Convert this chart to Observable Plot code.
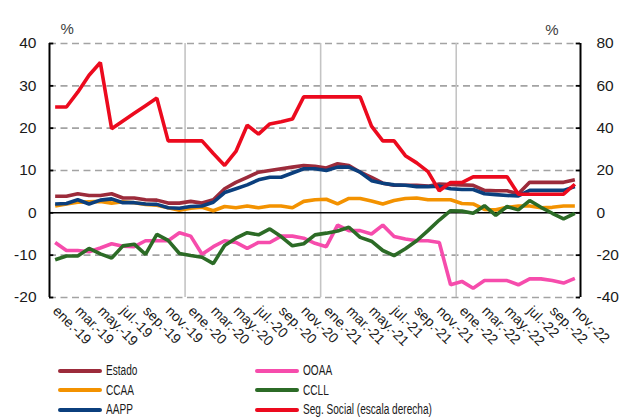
<!DOCTYPE html>
<html>
<head>
<meta charset="utf-8">
<script src="https://cdn.jsdelivr.net/npm/d3@7"></script>
<script src="https://cdn.jsdelivr.net/npm/@observablehq/plot@0.6"></script>
<style>
  body { margin: 0; background: #fff; }
  #wrap { position: relative; width: 619px; height: 418px; overflow: hidden; }
  .leg { position: absolute; font-family: "Liberation Sans", Arial, sans-serif; font-size: 14px; color: #1a1a1a; }
  .leg .sw { position: absolute; width: 44px; height: 4px; border-radius: 2px; }
  .leg .lb { position: absolute; white-space: nowrap; line-height: 13px; transform: scaleX(0.72); transform-origin: 0 50%; }
</style>
</head>
<body>
<div id="wrap"></div>
<script>
// ---- Data ----
const periods = [
  "ene.-19","feb.-19","mar.-19","abr.-19","may.-19","jun.-19","jul.-19","ago.-19","sep.-19","oct.-19","nov.-19","dic.-19",
  "ene.-20","feb.-20","mar.-20","abr.-20","may.-20","jun.-20","jul.-20","ago.-20","sep.-20","oct.-20","nov.-20","dic.-20",
  "ene.-21","feb.-21","mar.-21","abr.-21","may.-21","jun.-21","jul.-21","ago.-21","sep.-21","oct.-21","nov.-21","dic.-21",
  "ene.-22","feb.-22","mar.-22","abr.-22","may.-22","jun.-22","jul.-22","ago.-22","sep.-22","oct.-22","nov.-22"
];
const xTickLabels = [
  "ene.-19","mar.-19","may.-19","jul.-19","sep.-19","nov.-19",
  "ene.-20","mar.-20","may.-20","jul.-20","sep.-20","nov.-20",
  "ene.-21","mar.-21","may.-21","jul.-21","sep.-21","nov.-21",
  "ene.-22","mar.-22","may.-22","jul.-22","sep.-22","nov.-22"
];
const yearStarts = ["ene.-20","ene.-21","ene.-22"];
const leftTicks = [-20, -10, 0, 10, 20, 30, 40];
const rightTicks = [-40, -20, 0, 20, 40, 60, 80];

const estado = [3.9,3.9,4.5,4.1,4.1,4.5,3.5,3.5,3.1,3.0,2.3,2.3,2.7,2.3,3.1,5.7,7.2,8.4,9.6,10.0,10.4,10.8,11.2,11.0,10.6,11.6,11.2,9.6,8.4,7.0,6.5,6.5,6.5,6.3,6.8,6.7,6.6,6.5,5.3,5.2,5.2,4.5,7.2,7.2,7.2,7.2,7.8];
const ccaa = [1.6,2.1,2.5,2.6,2.7,2.3,2.6,2.4,2.0,1.8,1.2,0.6,1.1,1.3,0.5,1.5,1.2,1.6,1.2,1.6,1.6,1.2,2.7,3.1,3.2,2.1,3.4,3.4,2.8,2.1,2.9,3.4,3.5,3.1,3.1,3.1,2.2,2.1,0.8,0.7,1.3,1.6,1.6,1.2,1.3,1.6,1.6];
const aapp = [2.1,2.2,3.1,2.1,3.0,3.3,2.4,2.4,2.1,2.0,1.2,1.1,1.5,1.6,2.5,4.8,5.7,6.6,7.8,8.4,8.4,9.4,10.4,10.4,10.0,10.8,10.8,9.6,7.6,7.0,6.6,6.5,6.2,6.2,6.3,5.7,5.5,5.5,4.5,4.3,4.1,4.0,5.3,5.3,5.3,5.3,6.2];
const ooaa = [-7.0,-8.9,-8.9,-9.2,-8.3,-7.3,-7.9,-8.0,-6.6,-6.6,-6.6,-4.7,-5.5,-9.8,-8.0,-6.6,-7.0,-8.4,-7.0,-7.0,-5.5,-5.5,-6.0,-7.2,-8.0,-2.9,-4.2,-4.2,-5.0,-2.9,-5.6,-6.2,-6.6,-6.6,-7.0,-17.0,-16.2,-17.8,-16.0,-16.0,-16.0,-17.0,-15.6,-15.6,-16.0,-16.6,-15.5];
const ccll = [-11.1,-10.2,-10.2,-8.4,-9.7,-10.7,-7.8,-7.4,-9.8,-5.1,-6.5,-9.6,-10.1,-10.5,-12.0,-7.7,-6.0,-4.7,-5.2,-3.8,-5.6,-7.8,-7.3,-5.2,-4.8,-4.3,-3.4,-5.8,-6.7,-8.9,-10.1,-8.5,-6.6,-4.2,-1.7,0.5,0.4,-0.1,1.7,-0.6,1.5,0.7,2.9,1.3,-0.1,-1.4,-0.1];
const segSocial = [50,50,57,65,71,39.7,43.4,47,50.6,54.2,34,34,34,34,28,22.4,29,41.4,37.2,42,43,44.3,54.8,54.8,54.8,54.8,54.8,54.8,41,34,34,27,23.6,19.5,10.4,14.3,14.3,17,17,17,17,8.8,8.8,8.8,8.8,8.8,13.5];

const seriesNames = ["Estado","CCAA","AAPP","OOAA","CCLL","Seg. Social (escala derecha)"];
const seriesColors = ["#9C2B3B","#F39200","#0B3F7D","#F64CAC","#2C6B26","#EC0A1E"];
const seriesValues = [estado, ccaa, aapp, ooaa, ccll, segSocial];
const rightAxisSeries = "Seg. Social (escala derecha)";

// ---- Build table ----
const scaleRatio = (rightTicks[rightTicks.length-1]) / (leftTicks[leftTicks.length-1]); // 2
const rows = [];
seriesNames.forEach((name, s) => {
  seriesValues[s].forEach((v, i) => {
    rows.push({series: name, i, period: periods[i], v: name === rightAxisSeries ? v / scaleRatio : v});
  });
});
const idxOf = p => periods.indexOf(p);
const xTicks = xTickLabels.map(l => ({i: idxOf(l), label: l}));
const yearBounds = yearStarts.map(p => idxOf(p) - 0.5);
const xMin = -0.5, xMax = periods.length - 0.5;

const fontFam = "'Liberation Sans', Arial, Helvetica, sans-serif";

const chart = Plot.plot({
  width: 619,
  height: 358,
  marginLeft: 49,
  marginRight: 39,
  marginTop: 43,
  marginBottom: 61,
  x: {domain: [xMin, xMax], axis: null},
  y: {domain: [leftTicks[0], leftTicks[leftTicks.length-1]], axis: null},
  style: {fontFamily: fontFam, fontSize: "15px", color: "#1a1a1a", background: "transparent", overflow: "visible"},
  marks: [
    Plot.ruleY(leftTicks.filter(t => t !== 0), {x1: xMin, x2: xMax, stroke: "#a3a3a3", strokeWidth: 1.6, strokeDasharray: "7,4.5"}),
    Plot.ruleX(yearBounds, {y1: leftTicks[0], y2: leftTicks[leftTicks.length-1] , stroke: "#c4c4c4", strokeWidth: 1.6}),
    Plot.ruleY([0], {x1: xMin, x2: xMax, stroke: "#000", strokeWidth: 1.5}),
    ...seriesNames.map((name, s) => Plot.line(rows.filter(r => r.series === name), {
      x: "i", y: "v", stroke: seriesColors[s], strokeWidth: 3.6, strokeLinejoin: "miter", strokeLinecap: "butt"
    })),
    // axis lines
    Plot.ruleX([xMin, xMax], {y1: leftTicks[0], y2: leftTicks[leftTicks.length-1], stroke: "#000", strokeWidth: 2}),
    Plot.ruleY(leftTicks, {x1: xMin, x2: xMin + 0.38, stroke: "#000", strokeWidth: 1.8}),
    Plot.ruleY(leftTicks, {x1: xMax - 0.38, x2: xMax, stroke: "#000", strokeWidth: 1.8}),
    Plot.axisY({anchor: "left", label: null, ticks: leftTicks, tickSize: 0, tickPadding: 13, fontSize: 15.5, tickFormat: d => String(d)}),
    Plot.axisY({anchor: "right", label: null, ticks: rightTicks.map(v => v / scaleRatio), tickSize: 0, tickPadding: 16, fontSize: 15.5, tickFormat: d => String(Math.round(d * scaleRatio))}),
    Plot.text(xTicks, {x: "i", y: leftTicks[0], text: "label", rotate: 45, textAnchor: "start", dx: 0, dy: 11, fontSize: 14, fill: "#1a1a1a"}),
    Plot.text(["%"], {frameAnchor: "top-left", dx: 11, dy: -20, fontSize: 15, fill: "#404040"}),
    Plot.text(["%"], {frameAnchor: "top-right", dx: -22, dy: -19, fontSize: 15, fill: "#404040"})
  ]
});
const wrap = document.getElementById("wrap");
chart.style.position = "absolute";
chart.style.left = "0px";
chart.style.top = "0px";
wrap.appendChild(chart);

// ---- Legend ----
const legPos = [
  {col: 0, row: 0}, {col: 0, row: 1}, {col: 0, row: 2},
  {col: 1, row: 0}, {col: 1, row: 1}, {col: 1, row: 2}
];
const legendOrder = ["Estado","CCAA","AAPP","OOAA","CCLL","Seg. Social (escala derecha)"];
const colX = [58, 255];
const rowY = [370.5, 390, 409.5];
legendOrder.forEach((name, k) => {
  const s = seriesNames.indexOf(name);
  const p = legPos[k];
  const item = document.createElement("div");
  item.className = "leg";
  item.style.left = colX[p.col] + "px";
  item.style.top = rowY[p.row] + "px";
  const sw = document.createElement("div");
  sw.className = "sw";
  sw.style.background = seriesColors[s];
  sw.style.left = "0px";
  sw.style.top = "-2px";
  const lb = document.createElement("div");
  lb.className = "lb";
  lb.textContent = name;
  lb.style.left = "48px";
  lb.style.top = "-6.5px";
  item.appendChild(sw);
  item.appendChild(lb);
  wrap.appendChild(item);
});
</script>
</body>
</html>
